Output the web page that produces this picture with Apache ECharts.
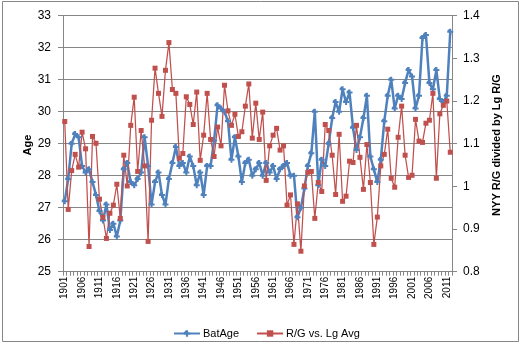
<!DOCTYPE html>
<html><head><meta charset="utf-8">
<script src="https://cdn.jsdelivr.net/npm/echarts@6/dist/echarts.min.js"></script>
<style>html,body{margin:0;padding:0;background:#fff}#c{width:520px;height:350px}</style>
</head><body><div id="c"></div>
<script>
const years = ['1901','1902','1903','1904','1905','1906','1907','1908','1909','1910',
'1911','1912','1913','1914','1915','1916','1917','1918','1919','1920',
'1921','1922','1923','1924','1925','1926','1927','1928','1929','1930',
'1931','1932','1933','1934','1935','1936','1937','1938','1939','1940',
'1941','1942','1943','1944','1945','1946','1947','1948','1949','1950',
'1951','1952','1953','1954','1955','1956','1957','1958','1959','1960',
'1961','1962','1963','1964','1965','1966','1967','1968','1969','1970',
'1971','1972','1973','1974','1975','1976','1977','1978','1979','1980',
'1981','1982','1983','1984','1985','1986','1987','1988','1989','1990',
'1991','1992','1993','1994','1995','1996','1997','1998','1999','2000',
'2001','2002','2003','2004','2005','2006','2007','2008','2009','2010',
'2011','2012'];

const batAge = [27.2, 27.9, 29.0, 29.3, 29.2, 28.3, 28.1, 28.2, 27.8, 27.4,
 26.9, 26.6, 27.1, 26.3, 26.5, 26.1, 26.6, 28.2, 28.4, 27.8,
 27.7, 27.9, 28.1, 29.2, 28.3, 27.1, 27.8, 28.1, 27.4, 27.1,
 27.9, 28.4, 28.9, 28.3, 28.4, 28.1, 28.6, 28.3, 27.7, 28.1,
 27.4, 28.3, 28.3, 29.1, 30.2, 30.1, 30.0, 29.7, 28.5, 29.2,
 28.6, 27.8, 28.4, 28.5, 28.0, 28.2, 28.4, 28.0, 28.4, 28.1,
 28.3, 27.9, 28.2, 28.3, 28.4, 28.0, 28.0, 26.7, 27.0, 27.6,
 28.3, 28.7, 30.0, 27.7, 28.5, 28.3, 29.0, 29.8, 30.3, 30.0,
 30.7, 30.3, 30.6, 29.5, 28.8, 29.2, 29.8, 30.5, 28.6, 28.2,
 27.8, 28.5, 29.7, 30.5, 31.0, 30.1, 30.5, 30.4, 30.9, 31.3,
 31.1, 30.1, 30.5, 32.3, 32.4, 30.9, 30.7, 31.3, 30.4, 30.3,
 30.5, 32.5];

const rgVsLg = [1.152, 0.946, 1.037, 1.075, 1.045, 1.127, 1.088, 0.859, 1.117, 1.101,
 0.970, 0.927, 0.878, 0.937, 0.956, 1.005, 0.925, 1.073, 1.001, 1.143,
 1.209, 1.035, 1.131, 1.048, 0.871, 1.155, 1.277, 1.218, 1.164, 1.272,
 1.337, 1.227, 1.218, 1.066, 1.077, 1.210, 1.192, 1.145, 1.221, 1.061,
 1.120, 1.218, 1.110, 1.070, 1.139, 1.095, 1.237, 1.177, 1.143, 1.169,
 1.117, 1.128, 1.188, 1.240, 1.113, 1.195, 1.110, 1.174, 1.014, 1.095,
 1.120, 1.136, 1.085, 1.095, 0.956, 0.980, 0.864, 0.959, 0.848, 1.001,
 1.033, 1.035, 0.925, 1.009, 0.988, 1.145, 1.131, 1.073, 0.981, 1.122,
 0.965, 0.977, 1.059, 1.056, 1.143, 1.068, 0.993, 1.098, 1.009, 0.864,
 0.928, 1.048, 1.075, 1.134, 1.019, 0.998, 1.115, 1.188, 1.073, 1.021,
 1.026, 1.157, 1.106, 1.103, 1.148, 1.155, 1.218, 1.019, 1.170, 1.190,
 1.200, 1.080];

const seriesNames = ['BatAge', 'R/G vs. Lg Avg'];
const leftTitle = 'Age';
const rightTitle = 'NYY R/G divided by Lg R/G';

const FONT = 'Liberation Sans, Arial, sans-serif';
const GRID = '#868686';
const BLUE = '#4F81BD';
const RED = '#C0504D';

const chart = echarts.init(document.getElementById('c'), null, {renderer: 'canvas'});
chart.setOption({
  animation: false,
  backgroundColor: '#fff',
  grid: {left: 63, right: 68, top: 15.7, bottom: 78.3, containLabel: false},
  legend: {
    left: 168, top: 323, itemWidth: 26, itemHeight: 8, itemGap: 17,
    textStyle: {fontSize: 11, fontFamily: FONT, color: '#000', padding: [0,0,0,-2]},
    data: seriesNames
  },
  xAxis: {
    type: 'category', data: years, boundaryGap: true,
    axisLine: {lineStyle: {color: GRID}},
    axisTick: {show: true, interval: 0, length: 4, lineStyle: {color: GRID}},
    axisLabel: {interval: 4, rotate: 90, fontSize: 10, fontFamily: FONT, color: '#000', margin: 5},
    splitLine: {show: false}
  },
  yAxis: [{
    type: 'value', min: 25, max: 33, interval: 1,
    axisLine: {show: true, lineStyle: {color: GRID}},
    axisTick: {show: true, length: 5, lineStyle: {color: GRID}},
    axisLabel: {fontSize: 12, fontFamily: FONT, color: '#000', margin: 12},
    splitLine: {show: true, lineStyle: {color: GRID, width: 1}}
  }, {
    type: 'value', min: 0.8, max: 1.4, interval: 0.1, position: 'right',
    axisLine: {show: true, lineStyle: {color: GRID}},
    axisTick: {show: true, length: 5, lineStyle: {color: GRID}},
    axisLabel: {fontSize: 12, fontFamily: FONT, color: '#000', margin: 11,
      formatter: v => String(Math.round(v * 10) / 10)},
    splitLine: {show: false}
  }],
  graphic: [
    {type: 'rect', shape: {x: 2.5, y: 1.5, width: 516, height: 340}, silent: true,
     style: {fill: 'none', stroke: GRID, lineWidth: 1}},
    {type: 'text', x: 28, y: 145, rotation: Math.PI / 2,
     style: {text: leftTitle, align: 'center', verticalAlign: 'middle', font: 'bold 11px ' + FONT, fill: '#000'}},
    {type: 'text', x: 497, y: 145, rotation: Math.PI / 2,
     style: {text: rightTitle, align: 'center', verticalAlign: 'middle', font: 'bold 11px ' + FONT, fill: '#000'}}
  ],
  series: [{
    name: seriesNames[0], type: 'line', yAxisIndex: 0, data: batAge,
    showAllSymbol: true,
    symbol: 'path://M2,0H4V2H6V4H4V6H2V4H0V2Z', symbolSize: 6,
    lineStyle: {color: BLUE, width: 2.5}, itemStyle: {color: BLUE}
  }, {
    name: seriesNames[1], type: 'line', yAxisIndex: 1, data: rgVsLg,
    showAllSymbol: true,
    symbol: 'rect', symbolSize: 5,
    lineStyle: {color: RED, width: 1.25}, itemStyle: {color: RED}
  }]
});
</script></body></html>
